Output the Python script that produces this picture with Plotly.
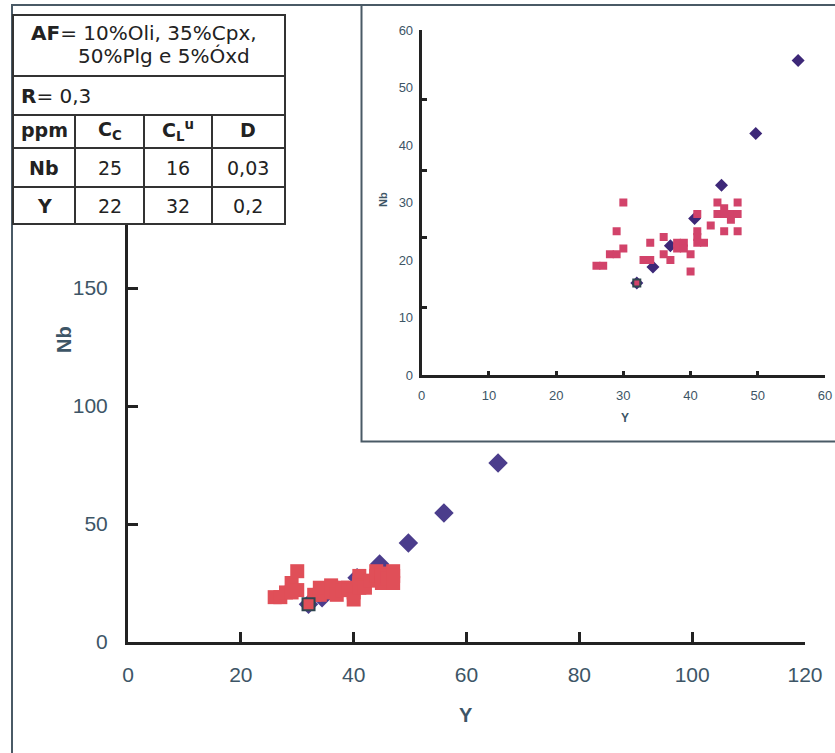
import plotly.graph_objects as go

# ---- data ----
blue_y = [32, 34.4, 37, 40.6, 44.6, 49.7, 56.0, 65.6]
blue_nb = [16, 18.8, 22.5, 27.2, 33.0, 42.0, 54.7, 75.8]

red_y = [26, 27, 28, 29, 29, 30, 30, 33, 34, 34, 36, 36, 37, 38, 38, 39, 39, 40, 40,
         41, 41, 41, 41, 42, 43, 44, 44, 45, 45, 45, 46, 46, 47, 47, 47]
red_nb = [19, 19, 21, 21, 25, 30, 22, 20, 20, 23, 24, 21, 20, 23, 22, 23, 22, 21, 18,
          28, 25, 24, 23, 23, 26, 30, 28, 29, 28, 25, 28, 27, 30, 28, 25]

start_y = [32]
start_nb = [16]

main_xticks = [0, 20, 40, 60, 80, 100, 120]
main_yticks = [0, 50, 100, 150]
inset_ticks = [0, 10, 20, 30, 40, 50, 60]
inset_ymarks = [11.8, 24, 35.6, 48]

table_rows = [["ppm", "C<sub>C</sub>", "C<sub>L</sub><sup>u</sup>", "D"],
              ["Nb", "25", "16", "0,03"],
              ["Y", "22", "32", "0,2"]]

W, H = 835, 753
def px(x):
    return x / W
def py(y):
    return 1 - y / H

TXT = "#3d5566"
AX = "#222222"
fontfam = "Liberation Sans, Arial, sans-serif"
tabfont = "DejaVu Sans, sans-serif"

fig = go.Figure()

# main plot
fig.add_trace(go.Scatter(x=blue_y, y=blue_nb, mode="markers", xaxis="x", yaxis="y",
                         marker=dict(symbol="diamond", size=15, color="#4b3d8c"), showlegend=False))
fig.add_trace(go.Scatter(x=red_y, y=red_nb, mode="markers", xaxis="x", yaxis="y",
                         marker=dict(symbol="square", size=14, color="#e04f58"), showlegend=False))
fig.add_trace(go.Scatter(x=start_y, y=start_nb, mode="markers", xaxis="x", yaxis="y",
                         marker=dict(symbol="square", size=12, color="#e04f58",
                                     line=dict(color="#2f4550", width=2)), showlegend=False))
# inset
fig.add_trace(go.Scatter(x=blue_y, y=blue_nb, mode="markers", xaxis="x2", yaxis="y2",
                         marker=dict(symbol="diamond", size=10, color="#3d2878"), showlegend=False))
fig.add_trace(go.Scatter(x=red_y, y=red_nb, mode="markers", xaxis="x2", yaxis="y2",
                         marker=dict(symbol="square", size=8, color="#d2436a"), showlegend=False))
fig.add_trace(go.Scatter(x=start_y, y=start_nb, mode="markers", xaxis="x2", yaxis="y2",
                         marker=dict(symbol="square", size=7, color="#d2436a",
                                     line=dict(color="#2f4550", width=2)), showlegend=False))

axis_common = dict(showgrid=False, zeroline=False, showline=True, linecolor=AX,
                   ticks="inside", tickcolor=AX, automargin=False)

fig.update_layout(
    width=W, height=H, margin=dict(l=0, r=0, t=0, b=0, pad=0), autosize=False,
    paper_bgcolor="white", plot_bgcolor="rgba(0,0,0,0)",
    font=dict(family=fontfam, color=TXT),
    xaxis=dict(domain=[px(128), px(805)], range=[0, 120], tickvals=main_xticks,
               linewidth=3, ticklen=10, tickwidth=3, tickfont=dict(size=21, color=TXT),
               ticklabelstandoff=12, anchor="y", **axis_common),
    yaxis=dict(domain=[py(642), py(170)], range=[0, 200], tickvals=main_yticks,
               linewidth=3, ticklen=10, tickwidth=3, tickfont=dict(size=21, color=TXT),
               ticklabelstandoff=13, anchor="x", **axis_common),
    xaxis2=dict(domain=[px(421.7), px(825)], range=[0, 60], tickvals=inset_ticks,
                linewidth=3, ticklen=4, tickwidth=3, tickfont=dict(size=13, color=TXT),
                ticklabelstandoff=6, anchor="y2", **axis_common),
    yaxis2=dict(domain=[py(375), py(30)], range=[0, 60], tickvals=inset_ticks,
                linewidth=3, ticklen=0, tickwidth=3, tickfont=dict(size=13, color=TXT),
                ticklabelstandoff=3, anchor="x2",
                minor=dict(tickmode="array", tickvals=inset_ymarks, ticks="inside",
                           ticklen=5, tickwidth=3, tickcolor=AX),
                **axis_common),
)

shapes = []
# outer chart border
shapes.append(dict(type="rect", xref="paper", yref="paper", x0=px(12), x1=px(850),
                   y0=py(5), y1=py(770), line=dict(color="#4a5a66", width=2),
                   fillcolor="rgba(0,0,0,0)", layer="below"))
# inset box
shapes.append(dict(type="rect", xref="paper", yref="paper", x0=px(361.5), x1=px(850),
                   y0=py(5), y1=py(441.5), line=dict(color="#4a5a66", width=2),
                   fillcolor="white", layer="below"))
# table
tx0, tx1 = 13, 285
rows_y = [15, 76, 115, 148, 187, 224]
cols_x = [13, 75, 144, 212, 285]
shapes.append(dict(type="rect", xref="paper", yref="paper", x0=px(tx0), x1=px(tx1),
                   y0=py(rows_y[0]), y1=py(rows_y[-1]), line=dict(color="#333", width=2),
                   fillcolor="white", layer="above"))
for ry in rows_y[1:-1]:
    shapes.append(dict(type="line", xref="paper", yref="paper", x0=px(tx0), x1=px(tx1),
                       y0=py(ry), y1=py(ry), line=dict(color="#333", width=2)))
for cx in cols_x[1:-1]:
    shapes.append(dict(type="line", xref="paper", yref="paper", x0=px(cx), x1=px(cx),
                       y0=py(115), y1=py(224), line=dict(color="#333", width=2)))
fig.update_layout(shapes=shapes)

ann = []
def text(x, y, s, size=18, xanchor="center", color="#222", angle=0, family=fontfam):
    ann.append(dict(x=px(x), y=py(y), xref="paper", yref="paper", text=s, showarrow=False,
                    xanchor=xanchor, yanchor="middle", textangle=angle,
                    font=dict(size=size, color=color, family=family)))

text(29, 33, "<b>AF</b>= 10%Oli, 35%Cpx,", size=20, xanchor="left", family=tabfont)
text(76, 56, "50%Plg e 5%Óxd", size=20, xanchor="left", family=tabfont)
text(19, 96, "<b>R</b>= 0,3", size=20, xanchor="left", family=tabfont)
centers = [44, 110, 178, 248]
row_cy = [130, 168, 206]
for r, row in enumerate(table_rows):
    for c, val in enumerate(row):
        s = val
        if r == 0 or c == 0:
            s = "<b>" + val + "</b>"
        text(centers[c], row_cy[r], s, size=19, family=tabfont)

# axis titles
text(64, 340, "<b>Nb</b>", size=20, color=TXT, angle=-90)
text(466, 715, "<b>Y</b>", size=20, color=TXT)
text(383, 200, "<b>Nb</b>", size=11, color=TXT, angle=-90)
text(625, 418, "<b>Y</b>", size=12, color=TXT)
fig.update_layout(annotations=ann)

fig.write_html("out.html")
